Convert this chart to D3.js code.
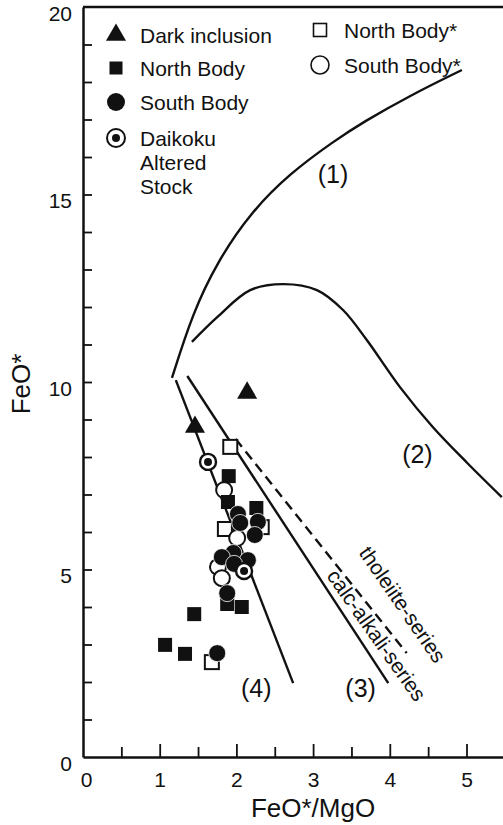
<!DOCTYPE html>
<html><head><meta charset="utf-8">
<script src="https://cdn.jsdelivr.net/npm/d3@7"></script>
<style>
html,body{margin:0;padding:0;background:#fff;}
svg{display:block;font-family:"Liberation Sans",Arial,Helvetica,sans-serif;}
</style></head><body>
<svg id="chart" width="503" height="825"></svg>
<script>
// FeO* vs FeO*/MgO diagram: series boundaries and sample compositions

const xTickLabels = [0, 1, 2, 3, 4, 5];
const yTickLabels = [0, 5, 10, 15, 20];

// samples: [FeO*/MgO, FeO*]
const darkInclusion = [[2.14, 9.71], [1.46, 8.80]];
const northBody = [[1.90, 7.49], [1.89, 6.80], [2.26, 6.64], [1.88, 4.08], [2.07, 4.00],
                   [1.45, 3.81], [1.07, 2.99], [1.33, 2.75]];
const southBody = [[2.02, 6.48], [2.05, 6.24], [2.28, 6.27], [2.24, 5.92], [1.96, 5.44],
                   [1.81, 5.33], [2.15, 5.25], [1.97, 5.15], [1.88, 4.37], [1.75, 2.77]];
const daikokuStock = [[1.63, 7.87], [2.10, 4.96]];
const northBodyStar = [[1.92, 8.27], [1.85, 6.08], [2.33, 6.13], [1.68, 2.53]];
const southBodyStar = [[1.84, 7.12], [2.01, 5.84], [1.76, 5.07], [1.81, 4.77]];

// boundary curves
const curve1 = [[1.16, 10.11], [1.43, 11.84], [1.75, 13.20], [2.18, 14.51], [2.70, 15.57],
                [3.27, 16.42], [3.65, 16.93], [4.30, 17.68], [4.94, 18.32]];
const curve2 = [[1.42, 11.07], [1.75, 11.73], [2.18, 12.45], [2.61, 12.61], [3.05, 12.45],
                [3.39, 11.92], [3.70, 11.12], [4.13, 9.87], [4.56, 8.80], [5.01, 7.84], [5.46, 6.93]];
const line3 = [[1.36, 10.16], [3.98, 1.97]];
const line4 = [[1.21, 10.05], [2.74, 1.97]];
const tholeiiteLine = [[1.99, 8.48], [4.22, 2.77]];

const svg = d3.select("#chart");
const x = d3.scaleLinear().domain([0, 5.5]).range([83, 83 + 5.5 * 76.7]);
const y = d3.scaleLinear().domain([0, 20]).range([757, 7]);
const INK = "#111";

// axes with inward ticks
const yAxis = d3.axisLeft(y)
  .tickValues(d3.range(0, 21, 1))
  .tickSize(-9).tickSizeOuter(0).tickPadding(11)
  .tickFormat(d => yTickLabels.includes(d) ? d : "");
const gy = svg.append("g").attr("transform", `translate(${x(0)},0)`).call(yAxis);

const xAxis = d3.axisBottom(x)
  .tickValues(d3.range(0, 5.51, 0.5))
  .tickSize(-10).tickSizeOuter(0).tickPadding(15)
  .tickFormat(d => xTickLabels.includes(d) ? d : "");
const gx = svg.append("g").attr("transform", `translate(0,${y(0)})`).call(xAxis);

[gx, gy].forEach(g => {
  g.select(".domain").attr("stroke", INK).attr("stroke-width", 2.5);
  g.selectAll(".tick line").attr("stroke", INK).attr("stroke-width", 1.8);
  g.selectAll(".tick text").attr("fill", INK).style("font-size", "21px")
    .style("font-family", '"Liberation Sans",Arial,sans-serif');
});
gx.selectAll(".tick line").attr("y2", d => Number.isInteger(d) ? -13 : -10);
gx.selectAll(".tick").filter(d => d === 0).select("line").remove();
gx.selectAll(".tick").filter(d => d === 0).select("text").attr("dx", 3);
gy.selectAll(".tick").filter(d => d === 0 || d === 20).select("line").remove();
gy.selectAll(".tick text").attr("dy", "0.62em");

// top frame line
svg.append("line")
  .attr("x1", x(0)).attr("x2", x(5.5)).attr("y1", y(20)).attr("y2", y(20))
  .attr("stroke", INK).attr("stroke-width", 2.5);

// axis titles
svg.append("text").attr("x", 313).attr("y", 817)
  .attr("text-anchor", "middle").attr("fill", INK).style("font-size", "26px").text("FeO*/MgO");
svg.append("text").attr("transform", `translate(30,${y(10) + 2}) rotate(-90)`)
  .attr("text-anchor", "middle").attr("fill", INK).style("font-size", "26px").text("FeO*");

// boundary lines
const smoothLine = d3.line().x(d => x(d[0])).y(d => y(d[1])).curve(d3.curveBasis);
const bentLine = d3.line().x(d => x(d[0])).y(d => y(d[1])).curve(d3.curveCatmullRom.alpha(0.5));
const straight = d3.line().x(d => x(d[0])).y(d => y(d[1]));
const lines = svg.append("g").attr("fill", "none").attr("stroke", INK).attr("stroke-width", 2.4);
lines.append("path").attr("d", smoothLine(curve1));
lines.append("path").attr("d", bentLine(curve2));
lines.append("path").attr("d", straight(line3));
lines.append("path").attr("d", straight(line4));
lines.append("path").attr("d", straight(tholeiiteLine)).attr("stroke-dasharray", "10,6");

// region labels
const lab = svg.append("g").attr("fill", INK).style("font-size", "25px").attr("text-anchor", "middle");
[["(1)", 3.26, 15.32], ["(2)", 4.36, 7.85], ["(3)", 3.62, 1.60], ["(4)", 2.26, 1.60]]
  .forEach(([t, a, b]) => lab.append("text").attr("x", x(a)).attr("y", y(b)).text(t));

const rot = svg.append("g").attr("fill", INK).style("font-size", "21px").attr("text-anchor", "middle")
  .attr("dominant-baseline", "central");
rot.append("text").attr("transform", `translate(${x(4.17)},${y(4.07)}) rotate(55.5)`).text("tholeiite-series");
rot.append("text").attr("transform", `translate(${x(3.83)},${y(3.25)}) rotate(54.8)`).text("calc-alkali-series");

// markers
const sym = (type, size) => d3.symbol().type(type).size(size)();
const pts = svg.append("g");
function plot(data, draw) {
  data.forEach(d => draw(pts.append("g").attr("transform", `translate(${x(d[0])},${y(d[1])})`)));
}
const openSquare = g => g.append("rect").attr("x", -7).attr("y", -7).attr("width", 14).attr("height", 14)
  .attr("fill", "#fff").attr("stroke", INK).attr("stroke-width", 2);
const openCircle = g => g.append("circle").attr("r", 8).attr("fill", "#fff").attr("stroke", INK).attr("stroke-width", 2);
const fillSquare = g => g.append("rect").attr("x", -7).attr("y", -7).attr("width", 14).attr("height", 14).attr("fill", INK);
const fillCircle = g => g.append("circle").attr("r", 8.5).attr("fill", INK).attr("stroke", "#fff").attr("stroke-width", 0.8);
const dotCircle = g => {
  g.append("circle").attr("r", 8).attr("fill", "#fff").attr("stroke", INK).attr("stroke-width", 2.4);
  g.append("circle").attr("r", 4).attr("fill", INK);
};
const triangle = g => g.append("path").attr("d", sym(d3.symbolTriangle, 175)).attr("fill", INK);

plot(northBodyStar, openSquare);
plot(southBodyStar, openCircle);
plot(northBody, fillSquare);
plot(southBody, fillCircle);
plot(daikokuStock, dotCircle);
plot(darkInclusion, triangle);

// legend
const leg = svg.append("g");
function legendItem(px, py, draw, lines, tx) {
  draw(leg.append("g").attr("transform", `translate(${px},${py})`));
  lines.forEach((t, i) => leg.append("text").attr("x", tx).attr("y", py + i * 24)
    .attr("dominant-baseline", "central").attr("fill", INK).style("font-size", "21px").text(t));
}
legendItem(116, 35, triangle, ["Dark inclusion"], 140);
legendItem(116, 68, g => g.append("rect").attr("x", -6.5).attr("y", -6.5).attr("width", 13).attr("height", 13).attr("fill", INK), ["North Body"], 140);
legendItem(116, 102, g => g.append("circle").attr("r", 9).attr("fill", INK), ["South Body"], 140);
legendItem(116, 138, g => {
  g.append("circle").attr("r", 9).attr("fill", "#fff").attr("stroke", INK).attr("stroke-width", 2);
  g.append("circle").attr("r", 4).attr("fill", INK);
}, ["Daikoku", "Altered", "Stock"], 140);
legendItem(320, 30, g => g.append("rect").attr("x", -6.5).attr("y", -6.5).attr("width", 13).attr("height", 13)
  .attr("fill", "#fff").attr("stroke", INK).attr("stroke-width", 1.6), ["North Body*"], 344);
legendItem(320, 65, g => g.append("circle").attr("r", 9).attr("fill", "#fff").attr("stroke", INK).attr("stroke-width", 1.6),
  ["South Body*"], 344);
</script>
</body></html>
